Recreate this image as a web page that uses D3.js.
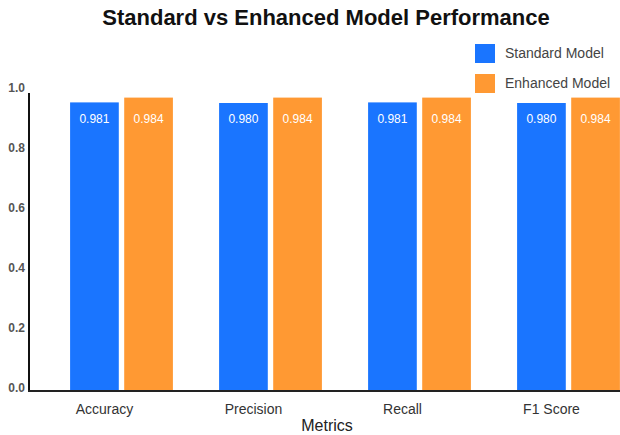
<!DOCTYPE html>
<html><head><meta charset="utf-8">
<script src="https://cdn.jsdelivr.net/npm/d3@7"></script>
<style>body{margin:0;background:#fff;} svg{display:block;font-family:"Liberation Sans",Arial,sans-serif;}</style>
</head><body><svg id="c" width="620" height="435"></svg>
<script>
const categories = ["Accuracy", "Precision", "Recall", "F1 Score"];
const seriesNames = ["Standard Model", "Enhanced Model"];
// bar heights
const standardValues = [0.962, 0.960, 0.962, 0.960];
const enhancedValues = [0.978, 0.978, 0.978, 0.978];
// printed value labels
const standardLabels = ["0.981", "0.980", "0.981", "0.980"];
const enhancedLabels = ["0.984", "0.984", "0.984", "0.984"];
const yTicks = [0.0, 0.2, 0.4, 0.6, 0.8, 1.0];
const colors = ["#1a75ff", "#ff9933"];

const svg = d3.select("#c");
const y = d3.scaleLinear().domain([0, 1]).range([391, 91]);
const x0 = d3.scaleBand().domain(categories).range([47, 643]).paddingInner(0.31).paddingOuter(0.155);
const x1 = d3.scaleBand().domain(seriesNames).range([0, x0.bandwidth()]).paddingInner(0.1);

const rows = categories.map((c, i) => ({
  cat: c,
  vals: [
    {s: seriesNames[0], v: standardValues[i], l: standardLabels[i], c: colors[0]},
    {s: seriesNames[1], v: enhancedValues[i], l: enhancedLabels[i], c: colors[1]}
  ]
}));

const g = svg.selectAll("g.grp").data(rows).join("g").attr("class", "grp")
  .attr("transform", d => `translate(${x0(d.cat)},0)`);
g.selectAll("rect").data(d => d.vals).join("rect")
  .attr("x", d => x1(d.s)).attr("width", x1.bandwidth())
  .attr("y", d => y(d.v)).attr("height", d => y(0) - y(d.v))
  .attr("fill", d => d.c);
g.selectAll("text.val").data(d => d.vals).join("text").attr("class", "val")
  .attr("x", d => x1(d.s) + x1.bandwidth() / 2)
  .attr("y", y(0.893))
  .attr("text-anchor", "middle").attr("fill", "#fff").attr("font-size", 12)
  .text(d => d.l);

// axes lines
svg.append("line").attr("x1", 29).attr("x2", 29).attr("y1", y(1) + 2).attr("y2", y(0) + 1)
  .attr("stroke", "#111").attr("stroke-width", 2);
svg.append("line").attr("x1", 28).attr("x2", 620).attr("y1", y(0)).attr("y2", y(0))
  .attr("stroke", "#222").attr("stroke-width", 2);

// y tick labels
svg.selectAll("text.yt").data(yTicks).join("text").attr("class", "yt")
  .attr("x", 25).attr("y", d => y(d) + 1)
  .attr("text-anchor", "end").attr("fill", "#555").attr("font-size", 12).attr("font-weight", "bold")
  .text(d => d3.format(".1f")(d));

// x labels (offset left of group centre, as in the reference)
svg.selectAll("text.xt").data(categories).join("text").attr("class", "xt")
  .attr("x", d => x0(d) + x0.bandwidth() / 2 - 17).attr("y", 414)
  .attr("text-anchor", "middle").attr("fill", "#333").attr("font-size", 14)
  .text(d => d);
svg.append("text").attr("x", 327).attr("y", 431).attr("text-anchor", "middle")
  .attr("fill", "#222").attr("font-size", 16).text("Metrics");

// title
svg.append("text").attr("x", 326).attr("y", 25).attr("text-anchor", "middle")
  .attr("fill", "#111").attr("font-size", 22).attr("font-weight", "bold")
  .text("Standard vs Enhanced Model Performance");

// legend
const lg = svg.selectAll("g.lg").data(seriesNames).join("g").attr("class", "lg")
  .attr("transform", (d, i) => `translate(475,${44 + i * 30})`);
lg.append("rect").attr("width", 20).attr("height", 19).attr("fill", (d, i) => colors[i]);
lg.append("text").attr("x", 30).attr("y", 14).attr("fill", "#444").attr("font-size", 14).text(d => d);
</script></body></html>
